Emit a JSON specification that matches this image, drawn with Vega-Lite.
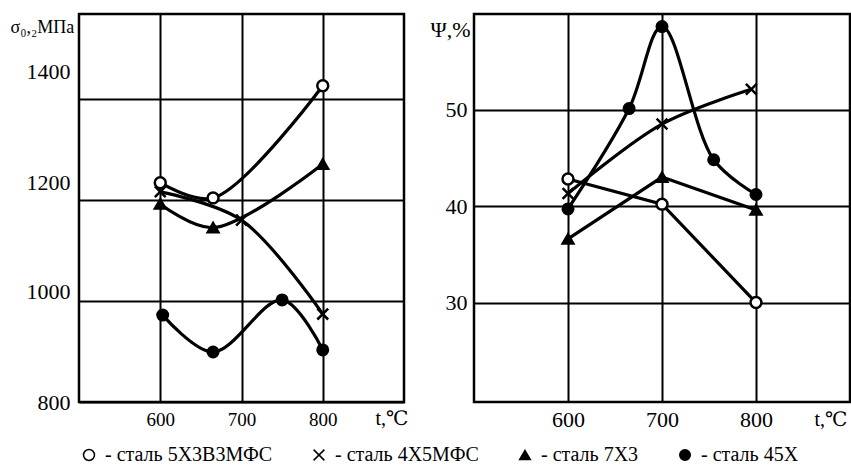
{
  "$schema": "https://vega.github.io/schema/vega-lite/v6.json",
  "padding": {"left": 8, "top": 12, "right": 0, "bottom": 0},
  "bounds": "flush",
  "spacing": 70,
  "config": {
    "font": "Liberation Serif, DejaVu Serif, serif",
    "view": {"stroke": "black", "strokeWidth": 2.5},
    "axis": {
      "labelColor": "black", "titleColor": "black", "gridColor": "black",
      "gridWidth": 2, "gridOpacity": 1, "ticks": false, "domain": false,
      "labelFont": "Liberation Serif, DejaVu Serif, serif", "titleFont": "Liberation Serif, DejaVu Serif, serif",
      "titleFontWeight": "normal", "format": "d"
    },
    "legend": {"labelFont": "Liberation Serif, DejaVu Serif, serif"}
  },
  "datasets": {
    "sigma": [
      {"steel": "сталь 5Х3В3МФС", "t": 600, "v": 1234},
      {"steel": "сталь 5Х3В3МФС", "t": 665, "v": 1204},
      {"steel": "сталь 5Х3В3МФС", "t": 800, "v": 1426},
      {"steel": "сталь 4Х5МФС", "t": 600, "v": 1216},
      {"steel": "сталь 4Х5МФС", "t": 700, "v": 1160},
      {"steel": "сталь 4Х5МФС", "t": 800, "v": 974},
      {"steel": "сталь 7Х3", "t": 600, "v": 1192},
      {"steel": "сталь 7Х3", "t": 665, "v": 1145},
      {"steel": "сталь 7Х3", "t": 800, "v": 1271},
      {"steel": "сталь 45Х", "t": 603, "v": 972},
      {"steel": "сталь 45Х", "t": 665, "v": 899},
      {"steel": "сталь 45Х", "t": 750, "v": 1002},
      {"steel": "сталь 45Х", "t": 800, "v": 903}
    ],
    "psi": [
      {"steel": "сталь 5Х3В3МФС", "t": 600, "v": 42.8},
      {"steel": "сталь 5Х3В3МФС", "t": 700, "v": 40.2},
      {"steel": "сталь 5Х3В3МФС", "t": 800, "v": 30.0},
      {"steel": "сталь 4Х5МФС", "t": 600, "v": 41.3},
      {"steel": "сталь 4Х5МФС", "t": 700, "v": 48.5},
      {"steel": "сталь 4Х5МФС", "t": 795, "v": 52.1},
      {"steel": "сталь 7Х3", "t": 600, "v": 36.6},
      {"steel": "сталь 7Х3", "t": 700, "v": 43.0},
      {"steel": "сталь 7Х3", "t": 800, "v": 39.6},
      {"steel": "сталь 45Х", "t": 600, "v": 39.7},
      {"steel": "сталь 45Х", "t": 665, "v": 50.1},
      {"steel": "сталь 45Х", "t": 700, "v": 58.6},
      {"steel": "сталь 45Х", "t": 755, "v": 44.8},
      {"steel": "сталь 45Х", "t": 800, "v": 41.2}
    ]
  },
  "hconcat": [
    {
      "width": 325, "height": 388,
      "data": {"name": "sigma"},
      "encoding": {
        "x": {"field": "t", "type": "quantitative",
              "scale": {"domain": [500, 900], "nice": false, "zero": false},
              "axis": {"values": [600, 700, 800], "title": "t,℃", "titleX": 296, "titleY": 16,
                       "titleAlign": "left", "titleBaseline": "middle", "titleFontSize": 20,
                       "labelFontSize": 19, "labelPadding": 8, "grid": true}},
        "y": {"field": "v", "type": "quantitative",
              "scale": {"domain": [800, 1568], "nice": false, "zero": false},
              "axis": {"values": [800, 1000, 1200, 1400], "title": "σ₀,₂МПа", "titleAngle": 0,
                       "titleX": -69, "titleY": 13, "titleAlign": "left", "titleBaseline": "middle",
                       "titleFontSize": 18, "labelFontSize": 22, "labelPadding": 9, "grid": true,
                       "labelOffset": {"condition": [
                         {"test": "datum.value == 1400", "value": -27},
                         {"test": "datum.value == 1200", "value": -17},
                         {"test": "datum.value == 1000", "value": -9}
                       ], "value": 0}}}
      },
      "layer": [
        {
          "mark": {"type": "line", "interpolate": "catmull-rom", "color": "black", "strokeWidth": 3.2},
          "encoding": {"detail": {"field": "steel"}}
        },
        {
          "mark": {"type": "point", "filled": true, "stroke": "black", "strokeWidth": 2.5, "opacity": 1},
          "encoding": {
            "shape": {"field": "steel", "type": "nominal",
                      "scale": {"domain": ["сталь 5Х3В3МФС", "сталь 4Х5МФС", "сталь 7Х3", "сталь 45Х"],
                                "range": ["circle", "M-1,-1L1,1M1,-1L-1,1", "triangle-up", "circle"]},
                      "legend": {"orient": "none", "legendX": 0, "legendY": 431, "direction": "horizontal",
                                 "columns": 4, "columnPadding": 36, "title": null, "labelFontSize": 20,
                                 "labelColor": "black", "labelLimit": 400,
                                 "labelExpr": "'- ' + datum.label", "labelOffset": 6,
                                 "encode": {"symbols": {"update": {"stroke": {"value": "black"}, "strokeWidth": {"value": 2.5}}}}}},
            "fill": {"field": "steel", "type": "nominal",
                     "scale": {"domain": ["сталь 5Х3В3МФС", "сталь 4Х5МФС", "сталь 7Х3", "сталь 45Х"],
                               "range": ["white", "black", "black", "black"]},
                     "legend": {"orient": "none", "legendX": 0, "legendY": 431, "direction": "horizontal",
                                "columns": 4, "columnPadding": 36, "title": null, "labelFontSize": 20,
                                "labelColor": "black", "labelLimit": 400,
                                "labelExpr": "'- ' + datum.label", "labelOffset": 6,
                                "encode": {"symbols": {"update": {"stroke": {"value": "black"}, "strokeWidth": {"value": 2.5}}}}}},
            "size": {"field": "steel", "type": "nominal",
                     "scale": {"domain": ["сталь 5Х3В3МФС", "сталь 4Х5МФС", "сталь 7Х3", "сталь 45Х"],
                               "range": [120, 110, 85, 140]},
                     "legend": {"orient": "none", "legendX": 0, "legendY": 431, "direction": "horizontal",
                                "columns": 4, "columnPadding": 36, "title": null, "labelFontSize": 20,
                                "labelColor": "black", "labelLimit": 400,
                                "labelExpr": "'- ' + datum.label", "labelOffset": 6,
                                "encode": {"symbols": {"update": {"stroke": {"value": "black"}, "strokeWidth": {"value": 2.5}}}}}}
          }
        }
      ]
    },
    {
      "width": 376, "height": 388,
      "data": {"name": "psi"},
      "encoding": {
        "x": {"field": "t", "type": "quantitative",
              "scale": {"domain": [500, 900], "nice": false, "zero": false},
              "axis": {"values": [600, 700, 800], "title": "t,℃", "titleX": 340, "titleY": 17,
                       "titleAlign": "left", "titleBaseline": "middle", "titleFontSize": 20,
                       "labelFontSize": 22, "labelPadding": 7, "grid": true}},
        "y": {"field": "v", "type": "quantitative",
              "scale": {"domain": [19.7, 59.9], "nice": false, "zero": false},
              "axis": {"values": [30, 40, 50], "title": "Ψ,%", "titleAngle": 0,
                       "titleX": -44, "titleY": 15, "titleAlign": "left", "titleBaseline": "middle",
                       "titleFontSize": 22, "labelFontSize": 22, "labelPadding": 7, "grid": true}}
      },
      "layer": [
        {
          "transform": [{"filter": "datum.steel == 'сталь 5Х3В3МФС' || datum.steel == 'сталь 7Х3'"}],
          "mark": {"type": "line", "interpolate": "linear", "color": "black", "strokeWidth": 3.2},
          "encoding": {"detail": {"field": "steel"}}
        },
        {
          "transform": [{"filter": "datum.steel == 'сталь 4Х5МФС' || datum.steel == 'сталь 45Х'"}],
          "mark": {"type": "line", "interpolate": "catmull-rom", "color": "black", "strokeWidth": 3.2},
          "encoding": {"detail": {"field": "steel"}}
        },
        {
          "mark": {"type": "point", "filled": true, "stroke": "black", "strokeWidth": 2.5, "opacity": 1},
          "encoding": {
            "shape": {"field": "steel", "type": "nominal"},
            "fill": {"field": "steel", "type": "nominal"},
            "size": {"field": "steel", "type": "nominal"}
          }
        }
      ]
    }
  ]
}
